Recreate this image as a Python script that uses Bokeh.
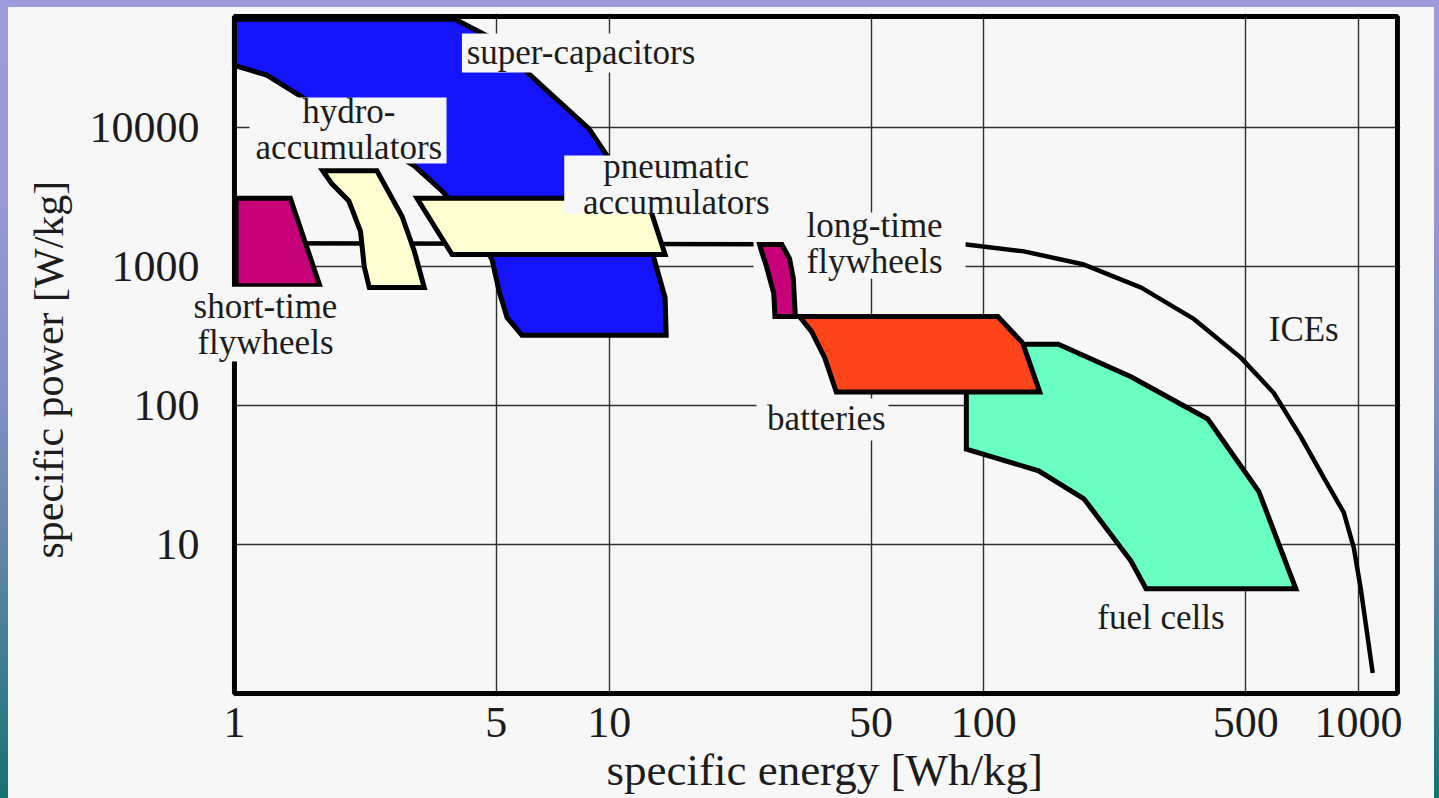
from bokeh.plotting import figure
from bokeh.layouts import column
from bokeh.models import FixedTicker, Label, PrintfTickFormatter, BoxAnnotation, Title
from bokeh.embed import file_html
from bokeh.resources import INLINE

# ---------------- data ----------------
x_ticks = [1, 5, 10, 50, 100, 500, 1000]
y_ticks = [10, 100, 1000, 10000]

supercap_energy = [1.0, 3.88, 4.78, 6.04, 6.82, 8.83, 9.86, 11.1, 12.6, 13.2, 14.1, 14.2,
                   5.85, 5.34, 5.08, 4.87, 4.31, 3.58, 3.02, 1.52, 1.22, 1.0]
supercap_power = [60000, 60000, 45000, 25000, 18500, 9800, 6300, 3800, 2100, 1120, 600, 320,
                  320, 430, 670, 1120, 1950, 3500, 5300, 16500, 23800, 28000]

pneumatic_energy = [3.07, 12.6, 14.1, 3.81]
pneumatic_power = [3100, 3100, 1220, 1220]

hydro_energy = [1.72, 2.40, 2.80, 3.02, 3.21, 2.29, 2.22, 2.17, 2.02, 1.82]
hydro_power = [4880, 4880, 2300, 1290, 705, 705, 1000, 1790, 2960, 3930]

short_fw_energy = [1.01, 1.41, 1.69, 1.01]
short_fw_power = [3100, 3100, 728, 728]

long_fw_energy = [25.2, 28.9, 30.3, 31.0, 31.4, 27.7, 27.5, 26.3, 25.5]
long_fw_power = [1440, 1440, 1140, 826, 437, 437, 641, 1000, 1290]

battery_energy = [32.2, 109, 127, 141, 40.4, 37.6, 34.7]
battery_power = [437, 437, 281, 125, 125, 221, 340]

fuelcell_energy = [89.8, 130, 158, 247, 396, 542, 680, 271, 247, 185, 140, 89.8]
fuelcell_power = [189, 276, 276, 161, 80, 24, 4.8, 4.8, 7.6, 21.3, 33.9, 48.6]

ice_energy = [1, 89.8, 128, 185, 263, 364, 485, 594, 701, 808, 913, 971, 1014, 1091]
ice_power = [1470, 1440, 1285, 1033, 705, 418, 221, 123, 59.7, 30.1, 17.0, 9.5, 4.77, 1.19]

label_text = ["super-capacitors", "hydro-\naccumulators", "pneumatic\naccumulators",
              "long-time\nflywheels", "short-time\nflywheels", "batteries", "fuel cells", "ICEs"]
label_x = [8.41, 2.02, 15.1, 51.1, 1.21, 38.0, 297, 714]
label_y = [34900, 9700, 3890, 1470, 385, 80, 2.99, 352]

# axis extents of the drawn chart box
energy_min, energy_max = 1, 1270
power_min, power_max = 0.847, 62900

# ---------------- styling ----------------
BG = "#f7f7f7"
FONT = "Liberation Serif"
TXT = "#1c1c1c"

p = figure(width=1426, height=791, x_axis_type="log", y_axis_type="log",
           x_range=(0.754, 1294), y_range=(0.806, 66100),
           output_backend="svg", toolbar_location=None,
           min_border_left=178, min_border_right=34, min_border_top=6, min_border_bottom=102)
p.background_fill_color = None
p.border_fill_color = BG
p.styles = {"background-color": BG}
p.outline_line_color = None

p.xaxis.ticker = FixedTicker(ticks=x_ticks, minor_ticks=[])
p.yaxis.ticker = FixedTicker(ticks=y_ticks, minor_ticks=[])
p.xaxis.formatter = PrintfTickFormatter(format="%d")
p.yaxis.formatter = PrintfTickFormatter(format="%d")
for ax in (p.xaxis, p.yaxis):
    ax.axis_line_color = None
    ax.major_tick_line_color = None
    ax.minor_tick_line_color = None
    ax.major_label_text_font = FONT
    ax.major_label_text_font_size = "44px"
    ax.major_label_text_color = TXT
p.xaxis.major_label_standoff = 5
p.yaxis.major_label_standoff = -17

p.add_layout(Title(text="specific energy [Wh/kg]", align="left", offset=418,
                   text_font=FONT, text_font_size="45px", text_font_style="normal",
                   text_color=TXT, standoff=6), "below")
p.add_layout(Title(text="specific power [W/kg]", align="left", offset=138,
                   text_font=FONT, text_font_size="42px", text_font_style="normal",
                   text_color=TXT, standoff=30), "left")

for g in (p.xgrid, p.ygrid):
    g.grid_line_color = "#303030"
    g.grid_line_width = 1.4
    g.level = "image"

# blank strip left of the chart box (room for the short-time label)
p.add_layout(BoxAnnotation(right=energy_min, fill_color=BG, fill_alpha=1,
                           line_alpha=0, level="underlay"))

# ICE line
p.line(ice_energy, ice_power, line_color="black", line_width=4.5, level="underlay")

# white box of the long-time flywheel label (under the shapes)
p.rect(x=[46.6], y=[1416], width=[212], height=[66], width_units="screen",
       height_units="screen", fill_color=BG, line_color=None)

OUT = dict(line_color="black", line_width=5, line_join="miter")
p.patch(short_fw_energy, short_fw_power, fill_color="#c8007a", **OUT)
p.patch(hydro_energy, hydro_power, fill_color="#ffffd2", **OUT)
p.patch(supercap_energy, supercap_power, fill_color="#1414ff", **OUT)
p.patch(pneumatic_energy, pneumatic_power, fill_color="#ffffd2", **OUT)
p.patch(long_fw_energy, long_fw_power, fill_color="#c8007a", **OUT)
p.patch(fuelcell_energy, fuelcell_power, fill_color="#69ffc3", **OUT)
p.patch(battery_energy, battery_power, fill_color="#ff4419", **OUT)

# white boxes behind the other labels
box_x = [8.46, 2.01, 14.6, 37.1]
box_y = [34400, 9510, 3890, 79.2]
box_w = [240, 197, 213, 132]
box_h = [39, 66, 58, 42]
p.rect(x=box_x, y=box_y, width=box_w, height=box_h, width_units="screen",
       height_units="screen", fill_color=BG, line_color=None)

# the chart box
p.add_layout(BoxAnnotation(left=energy_min, right=energy_max, bottom=power_min, top=power_max,
                           fill_alpha=0, line_color="black", line_alpha=1, line_width=5))

for t, x, y in zip(label_text, label_x, label_y):
    lab = Label(x=x, y=y, text=t, text_align="center", text_baseline="middle",
                text_font=FONT, text_font_size="35px", text_color=TXT,
                text_line_height=0.92)
    if t.startswith("short-time"):
        lab.background_fill_color = BG
    p.add_layout(lab)

page = column(p, styles={
    "padding": "7px 5px 0px 8px",
    "background": "linear-gradient(to bottom, #9b9bde 0%, #9898d8 25%, #8090c6 50%, "
                  "#5f84a8 70%, #3a7c90 85%, #147272 100%)",
})

open("out.html", "w").write(file_html(page, INLINE))
